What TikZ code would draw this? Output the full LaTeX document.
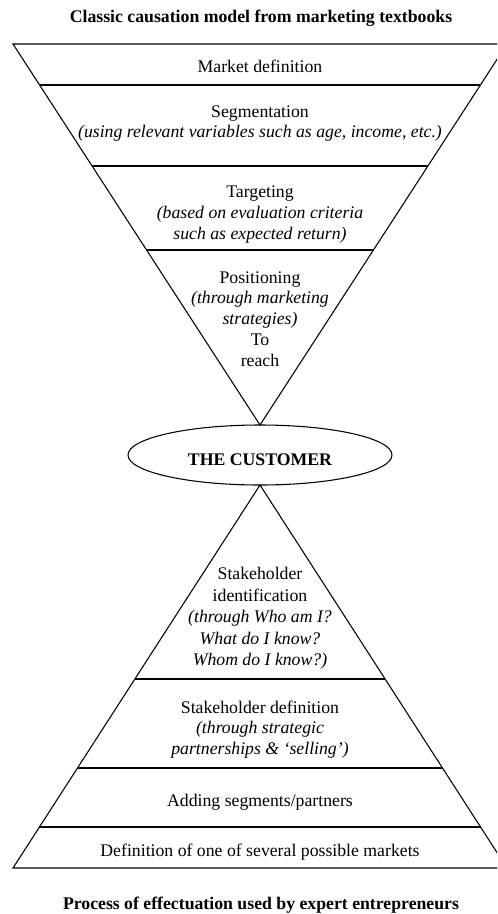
\documentclass[tikz,border=0pt]{standalone}
\usepackage{fontspec}
\setmainfont{Liberation Serif}
\usetikzlibrary{shapes.geometric}
\begin{document}
\begin{tikzpicture}[x=0.75pt,y=-0.75pt,line width=0.8pt,
  lbl/.style={align=center,font=\fontsize{13.3}{15.6}\selectfont,inner sep=0pt},
  lblw/.style={align=center,font=\fontsize{13.3}{16.1}\selectfont,inner sep=0pt},
  ttl/.style={align=center,font=\fontsize{13.3}{16}\selectfont\bfseries,inner sep=0pt},
  layer/.style={line width=0.8pt}]
\useasboundingbox (0,0) rectangle (497,914);
\clip (0,0) rectangle (497,914);
% top funnel
\coordinate (tA) at (13,44);
\coordinate (tB) at (507,44);
\coordinate (tC) at (260,425);
\draw[layer] (tA) -- (tB) -- (tC) -- cycle;
\draw[layer] (39.6,85) -- (480.4,85);
\draw[layer] (92.1,166) -- (427.9,166);
\draw[layer] (146.6,250) -- (373.4,250);
% bottom pyramid
\coordinate (bA) at (13,868);
\coordinate (bB) at (507,868);
\coordinate (bC) at (260,485);
\draw[layer] (bA) -- (bB) -- (bC) -- cycle;
\draw[layer] (134.9,679) -- (385.1,679);
\draw[layer] (77.5,768) -- (442.5,768);
\draw[layer] (39.4,827) -- (480.6,827);
% customer
\node[ellipse,draw,layer,minimum width=198pt,minimum height=45pt,inner sep=0pt] (custshape) at (260,455) {};
\node[ttl] (cust) at (260,460) {THE CUSTOMER};
% titles
\node[ttl] (ttop) at (261,18) {Classic causation model from marketing textbooks};
\node[ttl] (tbot) at (261,905) {Process of effectuation used by expert entrepreneurs};
% top labels
\node[lbl] (mdef) at (260,66) {Market definition};
\node[lbl] (seg) at (260,123.5) {Segmentation\\\textit{(using relevant variables such as age, income, etc.)}};
\node[lbl] (targ) at (260,214.5) {Targeting\\\textit{(based on evaluation criteria}\\\textit{such as expected return)}};
\node[lbl] (pos) at (260,319) {Positioning\\\textit{(through marketing}\\\textit{strategies)}\\To\\reach};
% bottom labels
\node[lblw] (sid) at (260,618.5) {Stakeholder\\identification\\\textit{(through Who am I?}\\\textit{What do I know?}\\\textit{Whom do I know?)}};
\node[lbl] (sdef) at (260,729.5) {Stakeholder definition\\\textit{(through strategic}\\\textit{partnerships \& ‘selling’)}};
\node[lbl] (add) at (260,802) {Adding segments/partners};
\node[lbl] (defm) at (260,852) {Definition of one of several possible markets};
\end{tikzpicture}
\end{document}
